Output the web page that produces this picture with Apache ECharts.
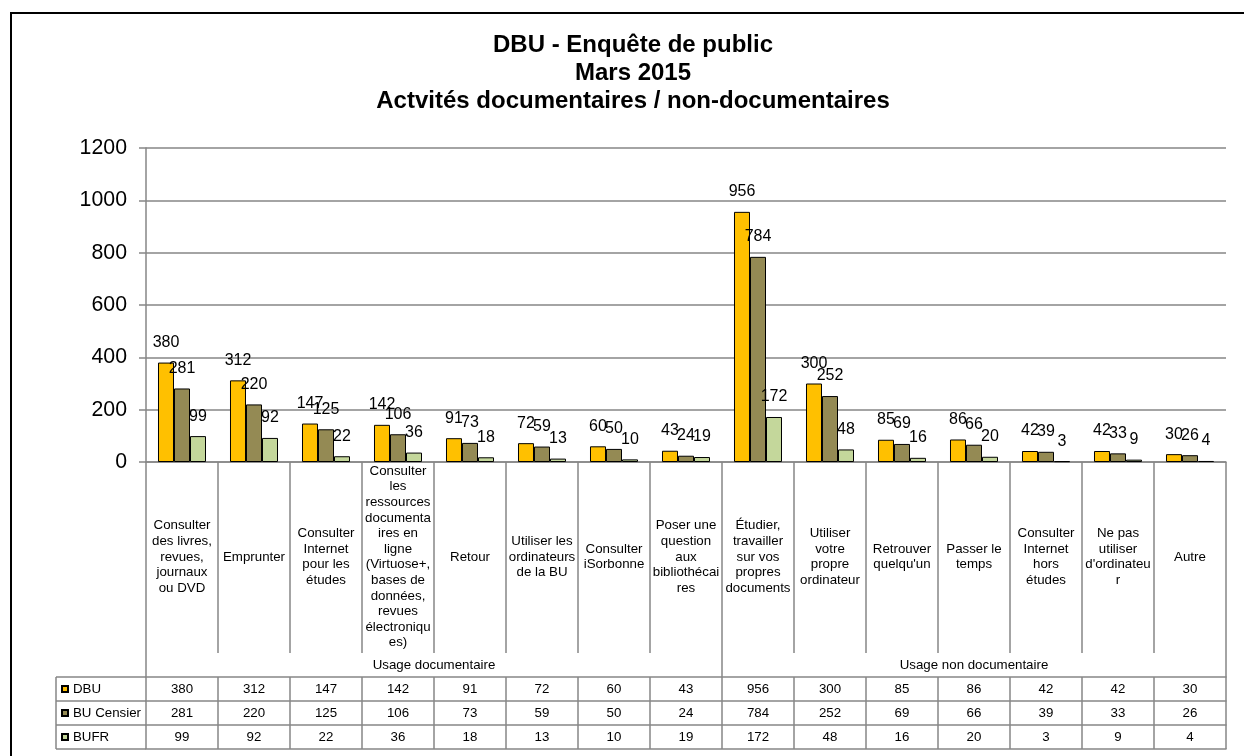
<!DOCTYPE html>
<html>
<head>
<meta charset="utf-8">
<script src="https://cdn.jsdelivr.net/npm/echarts@6/dist/echarts.min.js"></script>
<style>
html,body{margin:0;padding:0;background:#fff;}
#chart{width:1244px;height:756px;}
</style>
</head>
<body>
<div id="chart"></div>
<script>
const titleLines = ['DBU - Enquête de public', 'Mars 2015', 'Actvités documentaires / non-documentaires'];
const categories = [
  'Consulter\ndes livres,\nrevues,\njournaux\nou DVD',
  'Emprunter',
  'Consulter\nInternet\npour les\nétudes',
  'Consulter\nles\nressources\ndocumenta\nires en\nligne\n(Virtuose+,\nbases de\ndonnées,\nrevues\nélectroniqu\nes)',
  'Retour',
  'Utiliser les\nordinateurs\nde la BU',
  'Consulter\niSorbonne',
  'Poser une\nquestion\naux\nbibliothécai\nres',
  'Étudier,\ntravailler\nsur vos\npropres\ndocuments',
  'Utiliser\nvotre\npropre\nordinateur',
  'Retrouver\nquelqu\'un',
  'Passer le\ntemps',
  'Consulter\nInternet\nhors\nétudes',
  'Ne pas\nutiliser\nd\'ordinateu\nr',
  'Autre'
];
const groupNames = ['Usage documentaire', 'Usage non documentaire'];
const groupSizes = [8, 7];
const seriesNames = ['DBU', 'BU Censier', 'BUFR'];
const dbu = [380, 312, 147, 142, 91, 72, 60, 43, 956, 300, 85, 86, 42, 42, 30];
const buCensier = [281, 220, 125, 106, 73, 59, 50, 24, 784, 252, 69, 66, 39, 33, 26];
const bufr = [99, 92, 22, 36, 18, 13, 10, 19, 172, 48, 16, 20, 3, 9, 4];
const yTicks = [0, 200, 400, 600, 800, 1000, 1200];

const seriesData = [dbu, buCensier, bufr];
const colors = ['#FFC000', '#948A54', '#C4D79B'];
const FONT = "'Liberation Sans', Arial, sans-serif";
const GRAY = '#868686';

// group boundaries and centres (in category units)
const bounds = [0];
groupSizes.forEach(s => bounds.push(bounds[bounds.length - 1] + s));
const centres = groupSizes.map((s, i) => bounds[i] + s / 2);

const chart = echarts.init(document.getElementById('chart'), null, {renderer: 'canvas'});

const ROW = 24;       // table row height
const CAT_H = 191;    // category label band height
const tableAxes = seriesData.map((arr, k) => ({
  type: 'category',
  gridIndex: 0,
  position: 'bottom',
  offset: CAT_H + ROW * (k + 1),
  data: categories,
  axisLine: {show: true, lineStyle: {color: GRAY, width: 1.5}},
  axisTick: {show: true, interval: 0, length: ROW, lineStyle: {color: GRAY, width: 1.5}},
  axisLabel: {
    show: true, interval: 0, margin: 12, verticalAlign: 'middle',
    fontSize: 13.3, fontFamily: FONT, color: '#000',
    formatter: (v, i) => String(arr[i])
  },
  splitLine: {show: false}
}));

const option = {
  animation: false,
  backgroundColor: '#fff',
  textStyle: {fontFamily: FONT},
  title: {
    text: titleLines.join('\n'),
    left: 633,
    top: 32,
    textAlign: 'center',
    padding: 0,
    textStyle: {fontSize: 24, fontWeight: 'bold', color: '#000', lineHeight: 27.6, fontFamily: FONT}
  },
  legend: {
    data: seriesNames,
    orient: 'vertical',
    left: 61,
    top: 677,
    padding: 0,
    itemGap: 0,
    itemWidth: 6,
    itemHeight: 6,
    icon: 'rect',
    selectedMode: false,
    textStyle: {fontSize: 13.3, color: '#000', lineHeight: 24, fontFamily: FONT}
  },
  grid: {left: 146, right: 18, top: 148, bottom: 294, containLabel: false, outerBoundsMode: 'none'},
  yAxis: {
    type: 'value',
    min: yTicks[0],
    max: yTicks[yTicks.length - 1],
    interval: yTicks[1] - yTicks[0],
    axisLine: {show: true, lineStyle: {color: GRAY, width: 1.5}},
    axisTick: {show: true, length: 7, lineStyle: {color: GRAY, width: 1.5}},
    axisLabel: {fontSize: 21.3, color: '#000', margin: 19, fontFamily: FONT, formatter: v => String(v)},
    splitLine: {show: true, lineStyle: {color: GRAY, width: 1.5}}
  },
  xAxis: [
    {
      type: 'category',
      gridIndex: 0,
      position: 'bottom',
      data: categories,
      axisLine: {show: true, lineStyle: {color: GRAY, width: 1.5}},
      axisTick: {show: true, interval: 0, length: CAT_H, lineStyle: {color: GRAY, width: 1.5}},
      axisLabel: {
        show: true, interval: 0, margin: 95, verticalAlign: 'middle',
        fontSize: 13.3, lineHeight: 15.6, color: '#000', fontFamily: FONT, align: 'center'
      },
      splitLine: {show: false}
    },
    {
      type: 'value',
      gridIndex: 0,
      position: 'bottom',
      offset: CAT_H,
      min: 0,
      max: categories.length,
      axisLine: {show: false},
      axisTick: {show: true, customValues: bounds, length: ROW, lineStyle: {color: GRAY, width: 1.5}},
      axisLabel: {
        show: true, customValues: centres, margin: 12, verticalAlign: 'middle',
        fontSize: 13.3, color: '#000', fontFamily: FONT,
        formatter: v => groupNames[centres.indexOf(v)] || ''
      },
      splitLine: {show: false}
    },
    ...tableAxes,
    {
      type: 'category',
      gridIndex: 0,
      position: 'bottom',
      offset: CAT_H + ROW * 4,
      data: categories,
      axisLine: {show: true, lineStyle: {color: GRAY, width: 1.5}},
      axisTick: {show: false},
      axisLabel: {show: false},
      splitLine: {show: false}
    }
  ],
  series: seriesData.map((arr, k) => ({
    name: seriesNames[k],
    type: 'bar',
    xAxisIndex: 0,
    yAxisIndex: 0,
    data: arr,
    barGap: '0%',
    barCategoryGap: '33.33%',
    itemStyle: {color: colors[k], borderColor: '#000', borderWidth: 1},
    label: {show: true, position: 'top', distance: 12, fontSize: 16, color: '#000', fontFamily: FONT}
  })),
  graphic: [
    {type: 'rect', silent: true, shape: {x: 11, y: 13, width: 1400, height: 900},
     style: {fill: null, stroke: '#000', lineWidth: 2}},
    {type: 'line', silent: true, shape: {x1: 56, y1: 677, x2: 146, y2: 677}, style: {stroke: GRAY, lineWidth: 1.5}},
    {type: 'line', silent: true, shape: {x1: 56, y1: 701, x2: 146, y2: 701}, style: {stroke: GRAY, lineWidth: 1.5}},
    {type: 'line', silent: true, shape: {x1: 56, y1: 725, x2: 146, y2: 725}, style: {stroke: GRAY, lineWidth: 1.5}},
    {type: 'line', silent: true, shape: {x1: 56, y1: 749, x2: 146, y2: 749}, style: {stroke: GRAY, lineWidth: 1.5}},
    {type: 'line', silent: true, shape: {x1: 56, y1: 677, x2: 56, y2: 749}, style: {stroke: GRAY, lineWidth: 1.5}}
  ]
};
chart.setOption(option);
</script>
</body>
</html>
